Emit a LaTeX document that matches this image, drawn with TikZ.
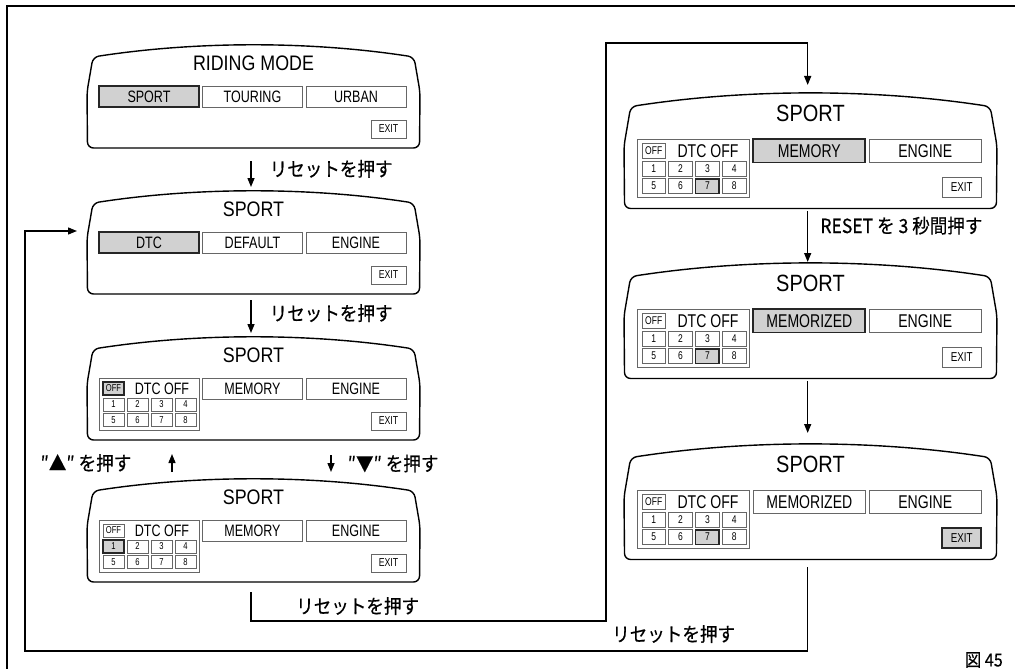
\documentclass[tikz,border=0pt]{standalone}
\usepackage{fontspec}
\usepackage{tikz}
\usetikzlibrary{arrows.meta,positioning}
\newfontfamily\titlefont[FakeStretch=0.85]{Liberation Sans}
\newfontfamily\condfont[FakeStretch=0.76]{Liberation Sans}
\newfontfamily\jpfont[FakeStretch=0.9, FakeBold=0.4]{Noto Sans CJK JP}

\begin{document}
\begin{tikzpicture}[
    x=1pt, y=-1pt,
    rim/.style={draw, line width=1.4pt, rounded corners=6pt},
    scrtitle/.style={inner sep=0pt, font=\titlefont\fontsize{21}{21}\selectfont},
    btn/.style={draw=black!60, line width=0.9pt, inner sep=0pt,
                minimum width=100pt, minimum height=21pt,
                font=\condfont\fontsize{16.5}{16.5}\selectfont},
    btnsel/.style={btn, fill=black!18, draw=black!85, line width=1.8pt},
    exitbtn/.style={btn, minimum width=35pt, minimum height=18pt,
                    font=\condfont\fontsize{11.5}{11.5}\selectfont},
    exitsel/.style={exitbtn, fill=black!18, draw=black!85, line width=1.8pt},
    cell/.style={draw=black!60, line width=0.7pt, inner sep=0pt,
                 minimum width=21pt, minimum height=13pt,
                 font=\condfont\fontsize{10}{10}\selectfont},
    cellsel/.style={cell, fill=black!18, draw=black!85, line width=1.6pt},
    grp/.style={draw=black!60, line width=0.8pt, minimum width=100pt, minimum height=52pt},
    flow/.style={line width=1.4pt, -{Triangle[length=9pt, width=7pt]}},
    lbl/.style={inner sep=0pt, font=\jpfont\fontsize{19.5}{19.5}\selectfont},
    pics/screen/.style={code={
        \draw[rim] (164,104) -- (0.5,104) -- (0,48) -- (6,13)
            .. controls (110,-3) and (223,-3) .. (327,13)
            -- (333,48) -- (332.5,104) -- cycle;
        \coordinate (-n) at (164,0);
        \coordinate (-s) at (164,104);
        \coordinate (-w) at (0,41);
    }},
    pics/dtcgrid/.style={code={
        \node[grp] (-box) at (62,68) {};
        \ifnum#1=0 \def\offst{cellsel}\else\def\offst{cell}\fi
        \node[\offst] (-off) at (26.5,52.5) {OFF};
        \node[inner sep=0pt, font=\condfont\fontsize{16.5}{16.5}\selectfont] (-lab) at (75,52.5) {DTC OFF};
        \foreach \row in {0,1}{
            \foreach \col in {1,...,4}{
                \pgfmathtruncatemacro\cn{\col+4*\row}
                \ifnum\cn=#1 \def\cst{cellsel}\else\def\cst{cell}\fi
                \node[\cst] (-c\cn) at (2.5+24*\col, 68.5+15.5*\row) {\cn};
            }
        }
    }}
]
\useasboundingbox (0,0) rectangle (1015,669);
\draw[line width=1.2pt] (7,669) -- (7,6) -- (1015,6);

% left column
\begin{scope}[shift={(87,44)}]
    \pic (d1) {screen};
    \node[scrtitle] (d1-tt) at (166.5,19) {RIDING MODE};
    \node[btnsel] (d1-a) at (62,52.5) {SPORT};
    \node[btn] (d1-b) at (165.5,52.5) {TOURING};
    \node[btn] (d1-c) at (269,52.5) {URBAN};
    \node[exitbtn] (d1-x) at (301.5,85) {EXIT};
\end{scope}
\begin{scope}[shift={(87,190)}]
    \pic (d2) {screen};
    \node[scrtitle] (d2-tt) at (166.5,19) {SPORT};
    \node[btnsel] (d2-a) at (62,52.5) {DTC};
    \node[btn] (d2-b) at (165.5,52.5) {DEFAULT};
    \node[btn] (d2-c) at (269,52.5) {ENGINE};
    \node[exitbtn] (d2-x) at (301.5,85) {EXIT};
\end{scope}
\begin{scope}[shift={(87,336)}]
    \pic (d3) {screen};
    \node[scrtitle] (d3-tt) at (166.5,19) {SPORT};
    \pic (d3g) {dtcgrid=0};
    \node[btn] (d3-b) at (165.5,52.5) {MEMORY};
    \node[btn] (d3-c) at (269,52.5) {ENGINE};
    \node[exitbtn] (d3-x) at (301.5,85) {EXIT};
\end{scope}
\begin{scope}[shift={(87,478)}]
    \pic (d4) {screen};
    \node[scrtitle] (d4-tt) at (166.5,19) {SPORT};
    \pic (d4g) {dtcgrid=1};
    \node[btn] (d4-b) at (165.5,52.5) {MEMORY};
    \node[btn] (d4-c) at (269,52.5) {ENGINE};
    \node[exitbtn] (d4-x) at (301.5,85) {EXIT};
\end{scope}

% right column
\begin{scope}[shift={(624,92)}, scale=1.12, every node/.append style={transform shape}]
    \pic (r1) {screen};
    \node[scrtitle] (r1-tt) at (166.5,19) {SPORT};
    \pic (r1g) {dtcgrid=7};
    \node[btnsel] (r1-b) at (165.5,52.5) {MEMORY};
    \node[btn] (r1-c) at (269,52.5) {ENGINE};
    \node[exitbtn] (r1-x) at (301.5,85) {EXIT};
\end{scope}
\begin{scope}[shift={(624,262)}, scale=1.12, every node/.append style={transform shape}]
    \pic (r2) {screen};
    \node[scrtitle] (r2-tt) at (166.5,19) {SPORT};
    \pic (r2g) {dtcgrid=7};
    \node[btnsel] (r2-b) at (165.5,52.5) {MEMORIZED};
    \node[btn] (r2-c) at (269,52.5) {ENGINE};
    \node[exitbtn] (r2-x) at (301.5,85) {EXIT};
\end{scope}
\begin{scope}[shift={(624,443)}, scale=1.12, every node/.append style={transform shape}]
    \pic (r3) {screen};
    \node[scrtitle] (r3-tt) at (166.5,19) {SPORT};
    \pic (r3g) {dtcgrid=7};
    \node[btn] (r3-b) at (165.5,52.5) {MEMORIZED};
    \node[btn] (r3-c) at (269,52.5) {ENGINE};
    \node[exitsel] (r3-x) at (301.5,85) {EXIT};
\end{scope}

% connectors
\coordinate (loopB) at (606,621);
\coordinate (loopT) at (606,43);
\coordinate (loopL) at (25,651);
\draw[flow] ([yshift=-13pt]d1-s) -- node[lbl, right=18pt, pos=0.3] (t1) {リセットを押す} ([yshift=3pt]d2-n);
\draw[flow] ([yshift=-6pt]d2-s) -- node[lbl, right=18pt, pos=0.4] (t2) {リセットを押す} ([yshift=3pt]d3-n);
\draw[flow] ([xshift=-79pt, yshift=6pt]d4-n) -- node[lbl, left=40pt] (t3) {″▲″ を押す} ([xshift=-79pt, yshift=-14pt]d3-s);
\draw[flow] ([xshift=80pt, yshift=-15pt]d3-s) -- node[lbl, right=16pt] (t4) {″▼″ を押す} ([xshift=80pt, yshift=6pt]d4-n);
\draw[flow] ([yshift=-10pt]d4-s) |- (loopB) -- (loopT) -| ([yshift=7pt]r1-n);
\node[lbl, anchor=west] (t6) at (296,606) {リセットを押す};
\draw[flow] ([yshift=-3pt]r1-s) -- node[lbl, right=12pt, pos=0.28] (t5) {RESET を 3 秒間押す} (r2-n);
\draw[flow] ([yshift=-3pt]r2-s) -- ([yshift=10pt]r3-n);
\draw[flow] ([yshift=-8pt]r3-s) |- (loopL) |- ([xshift=-10pt]d2-w);
\node[lbl, anchor=west] (t7) at (612,634) {リセットを押す};
\node[lbl, font=\jpfont\fontsize{18}{18}\selectfont, anchor=east] (fig) at (1003,660) {図 45};
\end{tikzpicture}
\end{document}
